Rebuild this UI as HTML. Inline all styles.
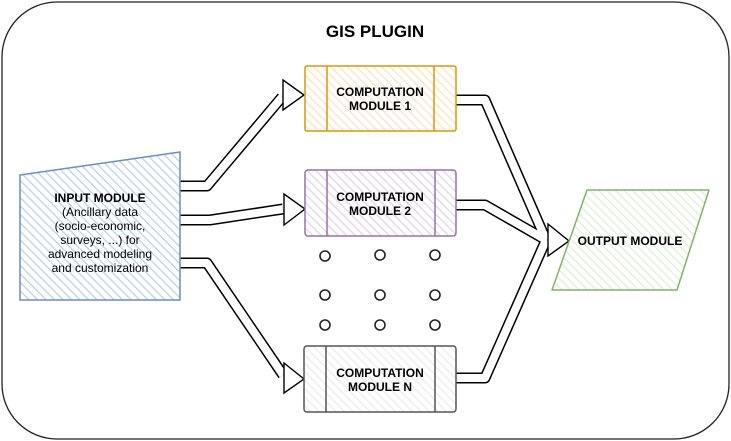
<!DOCTYPE html>
<html><head><meta charset="utf-8"><style>
html,body{margin:0;padding:0;background:#fff;}
svg{display:block;font-family:"Liberation Sans",sans-serif;}
</style></head><body>
<svg width="731" height="441" viewBox="0 0 731 441" xmlns="http://www.w3.org/2000/svg">
<defs>
<pattern id="hb" width="6" height="6" patternUnits="userSpaceOnUse" patternTransform="rotate(-45)"><rect width="6" height="6" fill="#fff"/><line x1="0" y1="0" x2="0" y2="6" stroke="#b9cff0" stroke-width="2.5"/></pattern>
<pattern id="ho" width="6" height="6" patternUnits="userSpaceOnUse" patternTransform="rotate(-45)"><rect width="6" height="6" fill="#fff"/><line x1="0" y1="0" x2="0" y2="6" stroke="#ffe0c2" stroke-width="2.5"/></pattern>
<pattern id="hp" width="6" height="6" patternUnits="userSpaceOnUse" patternTransform="rotate(-45)"><rect width="6" height="6" fill="#fff"/><line x1="0" y1="0" x2="0" y2="6" stroke="#e0d4e8" stroke-width="2.5"/></pattern>
<pattern id="hg" width="6" height="6" patternUnits="userSpaceOnUse" patternTransform="rotate(-45)"><rect width="6" height="6" fill="#fff"/><line x1="0" y1="0" x2="0" y2="6" stroke="#ececec" stroke-width="2.5"/></pattern>
<pattern id="hgr" width="6" height="6" patternUnits="userSpaceOnUse" patternTransform="rotate(-45)"><rect width="6" height="6" fill="#fff"/><line x1="0" y1="0" x2="0" y2="6" stroke="#d9ecd2" stroke-width="2.2"/></pattern>
</defs>
<rect x="2" y="2" width="727" height="437" rx="55" fill="#fff" stroke="#222" stroke-width="1.3"/>
<text x="375" y="37" text-anchor="middle" font-size="17" font-weight="bold" fill="#000">GIS PLUGIN</text>

<g fill="none" stroke-linejoin="round">
<path d="M180,186 L207,186 L282,97" stroke="#000" stroke-width="11"/>
<path d="M180,186 L207,186 L282,97" stroke="#fff" stroke-width="8"/>
<path d="M180,220 L210,220 L283,209" stroke="#000" stroke-width="11"/>
<path d="M180,220 L210,220 L283,209" stroke="#fff" stroke-width="8"/>
<path d="M180,263 L207,263 L283,375" stroke="#000" stroke-width="11"/>
<path d="M180,263 L207,263 L283,375" stroke="#fff" stroke-width="8"/>
<path d="M456,100 L485,100 L546,240 M456,205 L485,205 L546,240 M456,378 L485,378 L546,240" stroke="#000" stroke-width="11"/>
<path d="M456,100 L485,100 L546,240 M456,205 L485,205 L546,240 M456,378 L485,378 L546,240" stroke="#fff" stroke-width="8"/>
</g>
<g fill="#fff" stroke="#000" stroke-width="1.4" stroke-linejoin="miter">
<polygon points="283,80 304,95 283,110"/>
<polygon points="284,194 305,209 284,225"/>
<polygon points="284,363 304,379 284,393"/>
<polygon points="548,224 569,241 548,256"/>
</g>

<polygon points="20,175 180,152 180,300 20,300" fill="url(#hb)" stroke="#6c8ebf" stroke-width="1.5"/>
<g text-anchor="middle" font-size="12" fill="#000">
<text x="100" y="202" font-weight="bold">INPUT MODULE</text>
<text x="100" y="216">(Ancillary data</text>
<text x="100" y="230">(socio-economic,</text>
<text x="100" y="244">surveys, ...) for</text>
<text x="100" y="258">advanced modeling</text>
<text x="100" y="272">and customization</text>
</g>

<rect x="305" y="66" width="151" height="65" rx="2" fill="url(#ho)" stroke="#d79b00" stroke-width="1.5"/>
<line x1="327" y1="66" x2="327" y2="131" stroke="#d79b00" stroke-width="1.5"/><line x1="434" y1="66" x2="434" y2="131" stroke="#d79b00" stroke-width="1.5"/>
<rect x="305" y="170" width="151" height="66" rx="3" fill="url(#hp)" stroke="#9673a6" stroke-width="1.5"/>
<line x1="327" y1="170" x2="327" y2="236" stroke="#9673a6" stroke-width="1.5"/><line x1="435" y1="170" x2="435" y2="236" stroke="#9673a6" stroke-width="1.5"/>
<rect x="304" y="346" width="152" height="66" rx="3" fill="url(#hg)" stroke="#555" stroke-width="1.5"/>
<line x1="326" y1="346" x2="326" y2="412" stroke="#555" stroke-width="1.5"/><line x1="435" y1="346" x2="435" y2="412" stroke="#555" stroke-width="1.5"/>
<g text-anchor="middle" font-size="12" font-weight="bold" fill="#000">
<text x="380" y="96">COMPUTATION</text><text x="380" y="110">MODULE 1</text>
<text x="380" y="201">COMPUTATION</text><text x="380" y="215">MODULE 2</text>
<text x="380" y="377">COMPUTATION</text><text x="380" y="391">MODULE N</text>
</g>

<g fill="none" stroke="#222" stroke-width="1.6">
<circle cx="325" cy="256" r="5"/><circle cx="380" cy="255" r="5"/><circle cx="435" cy="255" r="5"/>
<circle cx="325" cy="295" r="5"/><circle cx="380" cy="295" r="5"/><circle cx="435" cy="295" r="5"/>
<circle cx="325" cy="325" r="5"/><circle cx="380" cy="325" r="5"/><circle cx="435" cy="325" r="5"/>
</g>

<polygon points="587,190 709,190 677,290 552,290" fill="url(#hgr)" stroke="#82b366" stroke-width="1.5" stroke-linejoin="round"/>
<text x="630" y="245" text-anchor="middle" font-size="12" font-weight="bold" fill="#000">OUTPUT MODULE</text>
</svg>
</body></html>
